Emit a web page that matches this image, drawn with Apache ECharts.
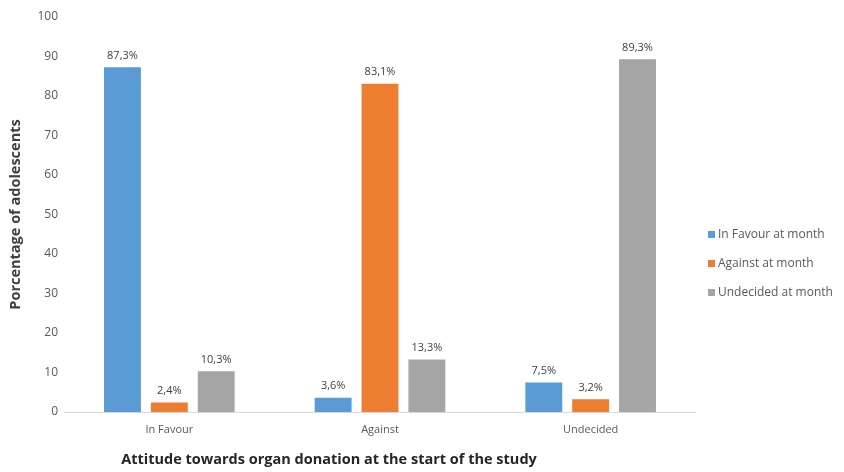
<!DOCTYPE html>
<html>
<head>
<meta charset="utf-8">
<script src="https://cdn.jsdelivr.net/npm/echarts@6/dist/echarts.min.js"></script>
<style>
  html, body { margin: 0; padding: 0; background: #fff; }
  #chart { width: 844px; height: 472px; }
</style>
</head>
<body>
<div id="chart"></div>
<script>
// Attitude at the start of the study (x categories)
var categories = ['In Favour', 'Against', 'Undecided'];
// Attitude at follow-up, percentage of adolescents
var seriesNames = ['In Favour at month', 'Against at month', 'Undecided at month'];
var inFavourValues = [87.3, 3.6, 7.5];
var againstValues = [2.4, 83.1, 3.2];
var undecidedValues = [10.3, 13.3, 89.3];
var yTicks = [0, 10, 20, 30, 40, 50, 60, 70, 80, 90, 100];

var colors = ['#5B9BD5', '#ED7D31', '#A5A5A5'];
var fontFam = '"Open Sans", "Noto Sans", sans-serif';

function pctLabel(p) {
  return p.value.toFixed(1).replace('.', ',') + '%';
}

function makeSeries(name, data, color) {
  return {
    name: name,
    type: 'bar',
    data: data,
    barGap: '27%',
    barCategoryGap: '38%',
    itemStyle: { color: color },
    label: {
      show: true,
      position: 'top',
      distance: 6,
      formatter: pctLabel,
      color: '#404040',
      fontSize: 11,
      fontFamily: fontFam
    }
  };
}

var chart = echarts.init(document.getElementById('chart'), null, { renderer: 'canvas' });
chart.setOption({
  animation: false,
  color: colors,
  grid: { left: 60, right: 148, top: 17, bottom: 52, containLabel: false },
  legend: {
    orient: 'vertical',
    left: 703,
    top: 221,
    itemWidth: 7,
    itemHeight: 7,
    itemGap: 12,
    icon: 'rect',
    textStyle: { color: '#595959', fontSize: 12, fontFamily: fontFam, padding: [0, 0, 0, -2], lineHeight: 17 },
    data: seriesNames
  },
  xAxis: {
    type: 'category',
    data: categories,
    name: 'Attitude towards organ donation at the start of the study',
    nameLocation: 'middle',
    nameGap: 40,
    nameTextStyle: { color: '#262626', fontSize: 14.5, fontWeight: 'bold', fontFamily: fontFam, padding: [0, 102, 0, 0] },
    axisLine: { lineStyle: { color: '#D9D9D9', width: 1 } },
    axisTick: { show: false },
    axisLabel: { color: '#595959', fontSize: 11, fontFamily: fontFam, margin: 12 }
  },
  yAxis: {
    type: 'value',
    min: yTicks[0],
    max: yTicks[yTicks.length - 1],
    interval: 10,
    name: 'Porcentage of adolescents',
    nameLocation: 'middle',
    nameGap: 41,
    nameTextStyle: { color: '#404040', fontSize: 14.5, fontWeight: 'bold', fontFamily: fontFam },
    splitLine: { show: false },
    axisLine: { show: false },
    axisTick: { show: false },
    axisLabel: { color: '#595959', fontSize: 12, fontFamily: fontFam, margin: 6 }
  },
  series: [
    makeSeries(seriesNames[0], inFavourValues, colors[0]),
    makeSeries(seriesNames[1], againstValues, colors[1]),
    makeSeries(seriesNames[2], undecidedValues, colors[2])
  ]
});
</script>
</body>
</html>
